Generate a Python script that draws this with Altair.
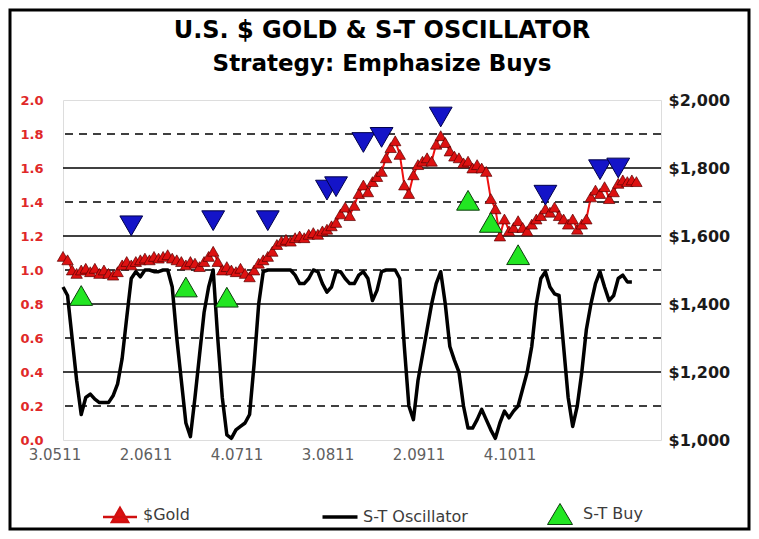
import altair as alt
import pandas as pd

# ---------------- data ----------------
gold = [1540, 1530, 1500, 1490, 1500, 1505, 1495, 1505, 1490, 1500,
        1490, 1485, 1495, 1515, 1525, 1515, 1525, 1530, 1535, 1530,
        1540, 1535, 1540, 1545, 1535, 1530, 1525, 1515, 1525, 1520,
        1510, 1525, 1540, 1555, 1525, 1500, 1510, 1500, 1495, 1505,
        1490, 1480, 1500, 1520, 1530, 1540, 1555, 1575, 1585, 1590,
        1585, 1595, 1600, 1595, 1605, 1610, 1605, 1615, 1620, 1630,
        1640, 1665, 1685, 1660, 1690, 1725, 1750, 1730, 1760, 1775,
        1790, 1830, 1860, 1880, 1840, 1750, 1725, 1780, 1810, 1820,
        1830, 1820, 1870, 1895, 1875, 1850, 1835, 1830, 1815, 1820,
        1800, 1810, 1800, 1790, 1710, 1680, 1600, 1650, 1615, 1625,
        1645, 1625, 1615, 1635, 1650, 1660, 1680, 1670, 1685, 1660,
        1650, 1635, 1650, 1620, 1635, 1650, 1715, 1735, 1725, 1745,
        1710, 1730, 1755, 1765, 1760, 1765, 1760]

osc = [0.90, 0.85, 0.60, 0.35, 0.15, 0.25, 0.27, 0.24, 0.22, 0.22,
       0.22, 0.26, 0.33, 0.48, 0.72, 0.95, 0.99, 0.96, 1.00, 1.00,
       0.99, 0.99, 1.00, 1.00, 0.90, 0.60, 0.35, 0.10, 0.02, 0.25,
       0.50, 0.75, 0.90, 1.00, 0.60, 0.25, 0.03, 0.01, 0.06, 0.08,
       0.10, 0.15, 0.45, 0.80, 0.99, 1.00, 1.00, 1.00, 1.00, 1.00,
       1.00, 0.97, 0.92, 0.92, 0.95, 1.00, 0.99, 0.92, 0.87, 0.90,
       0.99, 0.99, 0.95, 0.92, 0.92, 0.97, 0.99, 0.95, 0.82, 0.88,
       0.99, 1.00, 1.00, 1.00, 0.95, 0.55, 0.20, 0.12, 0.35, 0.50,
       0.65, 0.80, 0.92, 0.99, 0.80, 0.55, 0.47, 0.40, 0.20, 0.07,
       0.07, 0.12, 0.18, 0.12, 0.06, 0.01, 0.10, 0.17, 0.13, 0.17,
       0.20, 0.30, 0.40, 0.55, 0.80, 0.95, 0.99, 0.90, 0.86, 0.85,
       0.55, 0.25, 0.08, 0.20, 0.40, 0.65, 0.80, 0.92, 0.99, 0.90,
       0.82, 0.85, 0.95, 0.97, 0.93, 0.93]

sell_idx = [15, 33, 45, 58, 60, 66, 70, 83, 106, 118, 122]
sell_val = [1.26, 1.29, 1.29, 1.47, 1.49, 1.75, 1.78, 1.90, 1.44, 1.59, 1.60]

buy_idx = [4, 27, 36, 89, 94, 100]
buy_val = [0.85, 0.90, 0.84, 1.41, 1.28, 1.09]

x_label_idx = [0, 20, 40, 60, 80, 100]
x_labels = ["3.0511", "2.0611", "4.0711", "3.0811", "2.0911", "4.1011"]

left_ticks = [0.0, 0.2, 0.4, 0.6, 0.8, 1.0, 1.2, 1.4, 1.6, 1.8, 2.0]
right_ticks = [1000, 1200, 1400, 1600, 1800, 2000]
solid_levels = [0.4, 0.8, 1.2, 1.6]
dashed_levels = [0.2, 0.6, 1.0, 1.4, 1.8]

legend_names = ["$Gold", "S-T Oscillator", "S-T Buy"]

# ---------------- tables ----------------
df_gold = pd.DataFrame({"i": list(range(len(gold))), "gold": gold})
df_osc = pd.DataFrame({"i": list(range(len(osc))), "osc": osc})
df_sell = pd.DataFrame({"i": sell_idx, "v": sell_val})
df_buy = pd.DataFrame({"i": buy_idx, "v": buy_val})
df_solid = pd.DataFrame({"level": solid_levels})
df_dashed = pd.DataFrame({"level": dashed_levels})
df_leg = pd.DataFrame({"series": legend_names})

FONT = "DejaVu Sans"

label_expr = "[" + ",".join("'" + s + "'" for s in x_labels) + "][round(datum.value/20)]"
x_axis = alt.Axis(values=x_label_idx, labelExpr=label_expr, ticks=False, grid=False,
                  domain=False, labelFont=FONT, labelFontSize=15, labelColor="#606060",
                  labelPadding=16, translate=-8, labelFlush=False, title=None)
x_enc = alt.X("i:Q", scale=alt.Scale(domain=[0, 131.4], nice=False, zero=False), axis=x_axis)

left_scale = alt.Scale(domain=[0, 2], nice=False, zero=False)
left_axis = alt.Axis(orient="left", values=left_ticks, format=".1f", ticks=False,
                     domain=False, grid=False, labelFont=FONT, labelFontWeight="bold",
                     labelFontSize=13, labelColor="#e02828", labelPadding=20, title=None)
right_axis = alt.Axis(orient="right", values=right_ticks, format="$,.0f", ticks=False,
                      domain=False, grid=False, labelFont=FONT, labelFontWeight="bold",
                      labelFontSize=16, labelColor="#1a1a1a", labelPadding=7, title=None)

grid_solid = alt.Chart(df_solid).mark_rule(color="black", strokeWidth=1.3).encode(
    y=alt.Y("level:Q", scale=left_scale, axis=left_axis))
grid_dashed = alt.Chart(df_dashed).mark_rule(color="black", strokeWidth=1.3,
                                              strokeDash=[8, 6]).encode(
    y=alt.Y("level:Q", scale=left_scale, axis=left_axis))
osc_line = alt.Chart(df_osc).mark_line(color="black", strokeWidth=3.5,
                                       strokeJoin="round").encode(
    x=x_enc, y=alt.Y("osc:Q", scale=left_scale, axis=left_axis))
left_a = alt.layer(grid_solid, grid_dashed, osc_line)

gold_scale = alt.Scale(domain=[1000, 2000], nice=False, zero=False)
gold_line = alt.Chart(df_gold).mark_line(color="#ee1111", strokeWidth=2).encode(
    x=x_enc, y=alt.Y("gold:Q", scale=gold_scale, axis=right_axis))
gold_pts = alt.Chart(df_gold).mark_point(shape="triangle-up", filled=True, fill="#dd1111",
                                         stroke="#5a0000", strokeWidth=0.7, size=130,
                                         opacity=1).encode(
    x=x_enc, y=alt.Y("gold:Q", scale=gold_scale, axis=right_axis))
right = alt.layer(gold_line, gold_pts)

sell_pts = alt.Chart(df_sell).mark_point(shape="triangle-down", filled=True, fill="#1414c8",
                                         stroke="#00004a", strokeWidth=1, size=520,
                                         opacity=1).encode(
    x=x_enc, y=alt.Y("v:Q", scale=left_scale, axis=None))
buy_pts = alt.Chart(df_buy).mark_point(shape="triangle-up", filled=True, fill="#22e622",
                                       stroke="#0d3d0d", strokeWidth=1, size=520,
                                       opacity=1).encode(
    x=x_enc, y=alt.Y("v:Q", scale=left_scale, axis=None))
left_b = alt.layer(sell_pts, buy_pts)

# legend glyphs (unit-box paths, scaled by the legend symbol size)
glyph_gold = "M-1.7,0.25L1.7,0.25M0,-0.65L0.8,0.75L-0.8,0.75Z"
glyph_osc = "M-1.75,0L1.75,0"
glyph_buy = "M0,-1.05L1.25,1.05L-1.25,1.05Z"

legend = alt.Legend(title=None, orient="none", legendX=45, legendY=403,
                    direction="horizontal", columns=3, gridAlign="all",
                    columnPadding=67, labelFont=FONT, labelFontSize=16,
                    labelColor="#3c3c3c", labelOffset=11, symbolOpacity=1,
                    symbolSize=400)
leg_layer = alt.Chart(df_leg).mark_point(filled=True, clip=True, opacity=1).encode(
    x=alt.value(-300), y=alt.value(-300),
    fill=alt.Fill("series:N", scale=alt.Scale(domain=legend_names,
                                              range=["#e01010", "black", "#22e622"]),
                  legend=legend),
    stroke=alt.Stroke("series:N", scale=alt.Scale(domain=legend_names,
                                                  range=["#d01010", "black", "#0d3d0d"]),
                      legend=legend),
    shape=alt.Shape("series:N", scale=alt.Scale(domain=legend_names,
                                                range=[glyph_gold, glyph_osc, glyph_buy]),
                    legend=legend),
    strokeWidth=alt.StrokeWidth("series:N", scale=alt.Scale(type="ordinal",
                                                            domain=legend_names,
                                                            range=[2.5, 3.5, 1]),
                                legend=legend),
)

frame = alt.Chart(pd.DataFrame({"k": [0]})).mark_rect(
    fillOpacity=0, stroke="black", strokeWidth=3, clip=False).encode(
    x=alt.value(-53), x2=alt.value(686), y=alt.value(-90), y2=alt.value(429))

chart = alt.layer(left_a, right, left_b, leg_layer, frame).resolve_scale(
    y="independent"
).properties(
    width=598, height=340,
    autosize=alt.AutoSizeParams(type="none"),
    padding={"left": 55, "top": 92, "right": 90, "bottom": 91},
    title=alt.TitleParams(text="U.S. $ GOLD & S-T OSCILLATOR",
                          subtitle="Strategy: Emphasize Buys",
                          font=FONT, fontSize=24, fontWeight="bold", color="black",
                          subtitleFont=FONT, subtitleFontSize=23,
                          subtitleFontWeight="bold", subtitleColor="black",
                          subtitlePadding=10, anchor="middle", frame="group",
                          dx=20, dy=67, offset=0)
).configure_view(stroke="black", strokeWidth=2).configure(background="white")

chart.save("out.html", embed_options={"renderer": "svg", "actions": False})
